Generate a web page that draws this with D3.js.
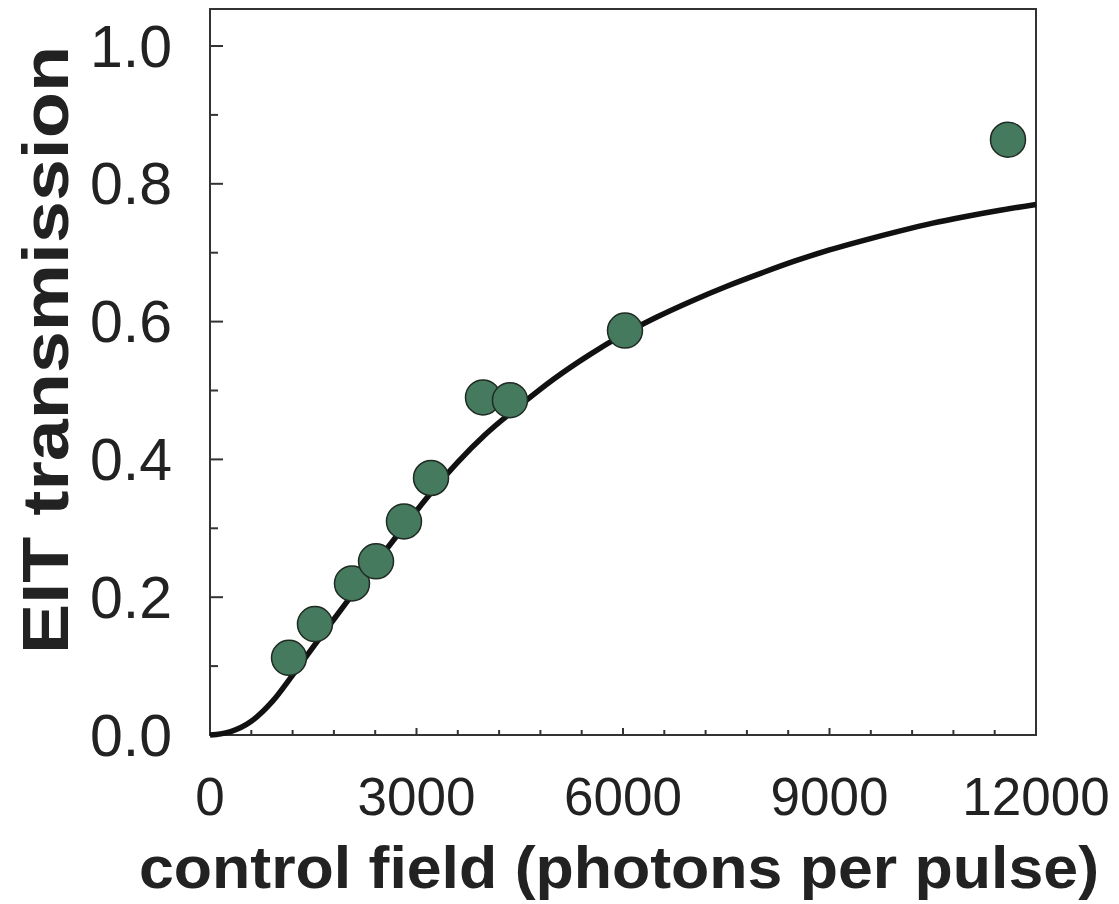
<!DOCTYPE html>
<html><head><meta charset="utf-8">
<script src="https://cdn.jsdelivr.net/npm/d3@7"></script>
<style>body{margin:0;background:#fff}svg{display:block}</style>
</head><body>
<script>
// measured points
const fieldX = [1148, 1525, 2063, 2412, 2818, 3211, 3966, 4358, 6029, 11593];
const transY = [0.112, 0.161, 0.220, 0.252, 0.310, 0.373, 0.490, 0.486, 0.587, 0.864];
// fit curve
const curveX = [0, 300, 600, 900, 1200, 1500, 1800, 2100, 2400, 2800, 3200, 3600, 4000, 4500, 5000, 5500, 6000, 6500, 7000, 7500, 8000, 8500, 9000, 9500, 10000, 10500, 11000, 11500, 12000];
const curveY = [0, 0.005, 0.020, 0.048, 0.087, 0.128, 0.168, 0.208, 0.248, 0.300, 0.350, 0.396, 0.436, 0.478, 0.517, 0.551, 0.581, 0.607, 0.630, 0.651, 0.670, 0.688, 0.704, 0.718, 0.731, 0.743, 0.753, 0.762, 0.770];
const xTickLabels = ["0", "3000", "6000", "9000", "12000"];
const yTickLabels = ["0.0", "0.2", "0.4", "0.6", "0.8", "1.0"];

const W = 1119, H = 904;
const L = 210, R = 1036, T = 9, B = 735;
const svg = d3.select("body").append("svg").attr("width", W).attr("height", H);
const x = d3.scaleLinear().domain([0, 12000]).range([L, R]);
const y = d3.scaleLinear().domain([0, 1]).range([B, B - 689]);
const axisCol = "#333";
const font = "Liberation Sans, Arial, Helvetica, sans-serif";

// frame
svg.append("rect").attr("x", L).attr("y", T).attr("width", R - L).attr("height", B - T)
  .attr("fill", "none").attr("stroke", axisCol).attr("stroke-width", 2);

// y ticks (inward)
const yMinor = d3.range(0, 1.01, 0.1);
svg.append("g").selectAll("line").data(yMinor).join("line")
  .attr("x1", L).attr("x2", (d, i) => L + (i % 2 === 0 ? 13 : 8))
  .attr("y1", d => y(d)).attr("y2", d => y(d))
  .attr("stroke", axisCol).attr("stroke-width", 2);
// x ticks (inward)
const xMinor = d3.range(0, 12001, 600);
svg.append("g").selectAll("line").data(xMinor).join("line")
  .attr("x1", d => x(d)).attr("x2", d => x(d))
  .attr("y1", B).attr("y2", (d, i) => B - (i % 5 === 0 ? 7 : 5))
  .attr("stroke", axisCol).attr("stroke-width", 2);

// tick labels
svg.append("g").selectAll("text").data(yTickLabels).join("text")
  .attr("x", 172).attr("y", d => y(+d)).attr("dy", "0.35em")
  .attr("text-anchor", "end").attr("font-family", font).attr("font-size", 59)
  .attr("fill", "#222").text(d => d);
svg.append("g").selectAll("text").data(xTickLabels).join("text")
  .attr("x", d => x(+d)).attr("y", 815)
  .attr("text-anchor", "middle").attr("font-family", font).attr("font-size", 53)
  .attr("fill", "#222").text(d => d);

// axis titles
svg.append("text").attr("x", 619).attr("y", 888).attr("text-anchor", "middle")
  .attr("font-family", font).attr("font-weight", "bold").attr("font-size", 60)
  .attr("textLength", 960).attr("lengthAdjust", "spacingAndGlyphs")
  .attr("fill", "#222").text("control field (photons per pulse)");
svg.append("text").attr("transform", "translate(68,350) rotate(-90)").attr("text-anchor", "middle")
  .attr("font-family", font).attr("font-weight", "bold").attr("font-size", 64)
  .attr("textLength", 608).attr("lengthAdjust", "spacingAndGlyphs")
  .attr("fill", "#222").text("EIT transmission");

// curve
const curve = curveX.map((d, i) => [d, curveY[i]]);
svg.append("path").datum(curve)
  .attr("d", d3.line().x(d => x(d[0])).y(d => y(d[1])).curve(d3.curveMonotoneX))
  .attr("fill", "none").attr("stroke", "#111").attr("stroke-width", 5.5);

// points
svg.append("g").selectAll("circle").data(fieldX.map((d, i) => [d, transY[i]])).join("circle")
  .attr("cx", d => x(d[0])).attr("cy", d => y(d[1])).attr("r", 17.5)
  .attr("fill", "#457a5e").attr("stroke", "#1e2a22").attr("stroke-width", 1.5);
</script>
</body></html>
